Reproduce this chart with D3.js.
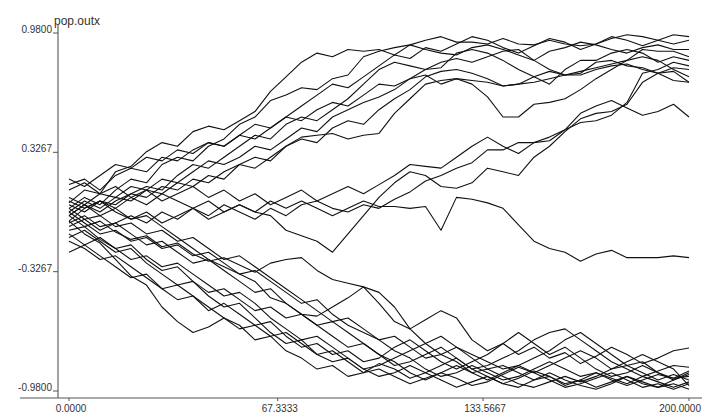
<!DOCTYPE html>
<html lang="en">
<head>
  <meta charset="UTF-8">
  <title>pop.outx</title>
  <script src="https://d3js.org/d3.v7.min.js"></script>
  <style>
    body {
      margin: 0;
      padding: 0;
      background: white;
      font-family: "Liberation Sans", Arial, sans-serif;
    }
    svg {
      display: block;
      background: #fff;
    }
    .tick-label {
      font-size: 10px;
      fill: #333;
    }
    .walk {
      fill: none;
      stroke: #111;
      stroke-width: 1.1;
      stroke-linejoin: round;
    }
  </style>
</head>
<body>
  <svg width="702" height="416"></svg>

  <script>
    const width = 702, height = 416;
    const svg = d3.select("svg");

    // sample times (every 5 steps)
    const steps = [0,5,10,15,20,25,30,35,40,45,50,55,60,65,70,75,80,85,90,95,100,
                   105,110,115,120,125,130,135,140,145,150,155,160,165,170,175,180,185,190,195,200];

    // ticks, as printed on the chart
    const yTicks = [0.98, 0.3267, -0.3267, -0.98];
    const yTickLabels = ["0.9800", "0.3267", "-0.3267", "-0.9800"];
    const xTicks = [0, 67.3333, 133.5667, 200];
    const xTickLabels = ["0.0000", "67.3333", "133.5667", "200.0000"];

    // walks that end near the top
    const walkA = [0.05,0.12,0.10,0.22,0.25,0.33,0.38,0.36,0.44,0.47,0.45,0.50,0.55,0.66,0.74,0.82,0.87,0.85,0.89,0.88,0.89,0.86,0.915,0.94,0.96,0.93,0.93,0.92,0.95,0.92,0.915,0.94,0.92,0.91,0.92,0.95,0.97,0.96,0.94,0.92,0.94];
    const walkB = [0.02,0.08,0.04,0.12,0.18,0.16,0.26,0.30,0.28,0.36,0.40,0.48,0.52,0.61,0.64,0.68,0.67,0.73,0.75,0.85,0.88,0.90,0.915,0.89,0.87,0.86,0.90,0.915,0.89,0.86,0.83,0.88,0.90,0.93,0.915,0.89,0.87,0.90,0.915,0.89,0.89];
    const walkC = [-0.05,0.02,0.06,0.04,0.10,0.14,0.12,0.20,0.26,0.24,0.30,0.36,0.42,0.40,0.48,0.52,0.50,0.56,0.62,0.70,0.78,0.82,0.80,0.78,0.79,0.87,0.89,0.87,0.83,0.78,0.74,0.70,0.78,0.83,0.83,0.87,0.89,0.87,0.82,0.85,0.83];
    const walkD = [0.15,0.18,0.12,0.20,0.24,0.22,0.30,0.28,0.34,0.38,0.36,0.42,0.40,0.46,0.52,0.50,0.56,0.60,0.58,0.64,0.70,0.69,0.73,0.75,0.70,0.73,0.70,0.63,0.52,0.52,0.59,0.60,0.62,0.67,0.73,0.78,0.83,0.89,0.88,0.88,0.85];
    const walkE = [0.08,0.04,0.10,0.08,0.14,0.12,0.18,0.16,0.22,0.28,0.26,0.30,0.36,0.34,0.40,0.46,0.44,0.52,0.56,0.60,0.63,0.67,0.73,0.78,0.82,0.84,0.82,0.85,0.88,0.89,0.83,0.78,0.75,0.76,0.82,0.83,0.80,0.79,0.76,0.79,0.78];
    const walkF = [0.0,0.06,0.02,0.08,0.06,0.12,0.10,0.16,0.14,0.20,0.18,0.26,0.30,0.28,0.36,0.40,0.38,0.46,0.50,0.48,0.56,0.62,0.67,0.74,0.77,0.78,0.76,0.73,0.69,0.70,0.71,0.73,0.75,0.77,0.79,0.81,0.83,0.85,0.83,0.78,0.74];
    const walkG = [-0.02,0.04,0.0,0.06,0.10,0.08,0.14,0.12,0.18,0.16,0.22,0.26,0.24,0.30,0.36,0.41,0.42,0.43,0.40,0.42,0.43,0.54,0.62,0.70,0.72,0.73,0.72,0.71,0.69,0.70,0.74,0.77,0.75,0.75,0.78,0.80,0.81,0.78,0.76,0.72,0.71];
    const walkN = [0.18,0.14,0.20,0.26,0.24,0.30,0.28,0.34,0.32,0.38,0.36,0.42,0.48,0.46,0.52,0.58,0.64,0.70,0.68,0.74,0.80,0.86,0.84,0.90,0.88,0.92,0.96,0.94,0.90,0.87,0.91,0.95,0.93,0.89,0.92,0.96,0.94,0.91,0.94,0.97,0.96];

    // walks that stay in the middle longer
    const walkH = [0.12,0.16,0.10,0.14,0.08,0.12,0.06,0.10,0.14,0.08,0.12,0.06,0.10,0.04,0.08,0.12,0.06,0.10,0.14,0.10,0.15,0.20,0.26,0.25,0.24,0.30,0.36,0.41,0.36,0.32,0.38,0.41,0.45,0.54,0.58,0.61,0.57,0.53,0.55,0.59,0.52];
    const walkI = [-0.08,-0.04,-0.10,-0.06,-0.02,-0.06,0.0,-0.04,0.02,-0.02,0.04,0.0,-0.04,0.02,-0.02,0.04,0.06,0.02,0.0,0.04,0.02,0.07,0.11,0.17,0.20,0.24,0.27,0.34,0.34,0.38,0.38,0.39,0.45,0.49,0.50,0.53,0.60,0.76,0.78,0.82,0.80];
    const walkJ = [0.04,0.0,0.06,0.02,0.08,0.04,0.10,0.06,0.02,0.06,0.0,0.04,0.0,-0.02,-0.10,-0.13,-0.16,-0.22,-0.12,-0.02,0.08,0.16,0.22,0.20,0.14,0.13,0.16,0.24,0.22,0.20,0.30,0.36,0.44,0.51,0.54,0.55,0.59,0.71,0.76,0.77,0.71];
    const walkK = [-0.02,0.04,-0.02,0.02,-0.04,0.0,-0.06,-0.02,0.02,-0.04,0.0,0.04,0.0,0.06,0.02,0.06,0.02,-0.02,0.02,0.06,0.03,0.03,0.02,0.03,-0.10,0.08,0.07,0.05,0.02,-0.07,-0.16,-0.20,-0.22,-0.27,-0.23,-0.21,-0.25,-0.25,-0.25,-0.24,-0.25];

    // walks that end near the bottom
    const walkL1 = [-0.02,-0.08,-0.05,-0.11,-0.15,-0.13,-0.19,-0.17,-0.23,-0.27,-0.25,-0.29,-0.33,-0.28,-0.26,-0.25,-0.32,-0.37,-0.39,-0.41,-0.44,-0.52,-0.64,-0.59,-0.54,-0.58,-0.70,-0.76,-0.72,-0.78,-0.74,-0.80,-0.77,-0.83,-0.79,-0.74,-0.78,-0.83,-0.80,-0.76,-0.745];
    const walkL2 = [-0.05,-0.12,-0.17,-0.26,-0.35,-0.40,-0.52,-0.60,-0.66,-0.63,-0.58,-0.62,-0.70,-0.68,-0.76,-0.80,-0.86,-0.84,-0.90,-0.88,-0.83,-0.86,-0.91,-0.88,-0.84,-0.80,-0.86,-0.90,-0.94,-0.91,-0.87,-0.90,-0.95,-0.92,-0.88,-0.91,-0.94,-0.90,-0.93,-0.96,-0.93];
    const walkL3 = [-0.10,-0.08,-0.15,-0.20,-0.18,-0.26,-0.32,-0.30,-0.38,-0.46,-0.52,-0.50,-0.58,-0.66,-0.72,-0.70,-0.78,-0.82,-0.80,-0.86,-0.90,-0.88,-0.84,-0.88,-0.92,-0.96,-0.93,-0.90,-0.94,-0.96,-0.92,-0.88,-0.92,-0.95,-0.97,-0.94,-0.90,-0.93,-0.96,-0.94,-0.97];
    const walkL4 = [-0.22,-0.18,-0.24,-0.30,-0.36,-0.34,-0.42,-0.48,-0.46,-0.54,-0.50,-0.56,-0.62,-0.60,-0.68,-0.74,-0.72,-0.78,-0.76,-0.82,-0.80,-0.74,-0.70,-0.76,-0.82,-0.86,-0.82,-0.78,-0.72,-0.66,-0.72,-0.78,-0.74,-0.80,-0.86,-0.90,-0.88,-0.84,-0.88,-0.92,-0.88];
    const walkL5 = [-0.06,-0.02,-0.08,-0.06,-0.12,-0.18,-0.16,-0.22,-0.28,-0.26,-0.32,-0.38,-0.44,-0.42,-0.50,-0.56,-0.62,-0.68,-0.74,-0.72,-0.78,-0.84,-0.82,-0.78,-0.74,-0.80,-0.86,-0.84,-0.80,-0.76,-0.70,-0.66,-0.64,-0.70,-0.76,-0.82,-0.86,-0.90,-0.87,-0.84,-0.85];
    const walkL6 = [0.02,-0.04,-0.02,-0.08,-0.06,-0.12,-0.10,-0.16,-0.14,-0.20,-0.26,-0.24,-0.30,-0.36,-0.42,-0.48,-0.54,-0.60,-0.58,-0.64,-0.70,-0.76,-0.80,-0.86,-0.90,-0.88,-0.84,-0.88,-0.92,-0.90,-0.86,-0.82,-0.86,-0.90,-0.88,-0.92,-0.95,-0.92,-0.89,-0.91,-0.90];
    const walkL7 = [-0.14,-0.10,-0.16,-0.22,-0.20,-0.28,-0.34,-0.40,-0.38,-0.44,-0.42,-0.48,-0.54,-0.52,-0.58,-0.56,-0.62,-0.60,-0.66,-0.72,-0.78,-0.82,-0.88,-0.92,-0.88,-0.91,-0.95,-0.93,-0.89,-0.85,-0.88,-0.84,-0.80,-0.76,-0.80,-0.86,-0.84,-0.88,-0.92,-0.89,-0.92];
    const walkL8 = [-0.12,-0.18,-0.14,-0.20,-0.26,-0.24,-0.30,-0.28,-0.34,-0.40,-0.46,-0.44,-0.50,-0.58,-0.64,-0.70,-0.68,-0.74,-0.80,-0.86,-0.84,-0.80,-0.76,-0.72,-0.68,-0.74,-0.78,-0.82,-0.86,-0.84,-0.80,-0.76,-0.70,-0.66,-0.72,-0.78,-0.84,-0.82,-0.88,-0.91,-0.87];
    const walkL9 = [0.0,-0.06,-0.12,-0.10,-0.16,-0.14,-0.20,-0.18,-0.24,-0.22,-0.28,-0.34,-0.32,-0.38,-0.44,-0.50,-0.48,-0.56,-0.62,-0.66,-0.70,-0.68,-0.74,-0.80,-0.78,-0.82,-0.88,-0.86,-0.90,-0.94,-0.96,-0.93,-0.90,-0.93,-0.90,-0.86,-0.82,-0.78,-0.82,-0.86,-0.95];
    const walkL10 = [0.06,0.02,0.06,0.0,-0.04,-0.02,-0.08,-0.14,-0.20,-0.26,-0.30,-0.34,-0.38,-0.47,-0.50,-0.56,-0.57,-0.52,-0.47,-0.41,-0.50,-0.60,-0.64,-0.72,-0.78,-0.74,-0.80,-0.86,-0.84,-0.88,-0.92,-0.90,-0.94,-0.92,-0.96,-0.93,-0.90,-0.94,-0.96,-0.92,-0.89];
    const walkL11 = [-0.16,-0.20,-0.26,-0.24,-0.30,-0.36,-0.42,-0.40,-0.46,-0.52,-0.58,-0.64,-0.62,-0.68,-0.66,-0.72,-0.78,-0.76,-0.82,-0.88,-0.86,-0.90,-0.94,-0.91,-0.88,-0.84,-0.88,-0.92,-0.88,-0.84,-0.88,-0.92,-0.96,-0.94,-0.91,-0.88,-0.92,-0.96,-0.94,-0.97,-0.94];

    const walks = [walkA, walkB, walkC, walkD, walkE, walkF, walkG, walkN,
                   walkH, walkI, walkJ, walkK,
                   walkL1, walkL2, walkL3, walkL4, walkL5, walkL6, walkL7, walkL8, walkL9, walkL10, walkL11];

    const x = d3.scaleLinear().domain([0, 200]).range([69, 689]);
    const y = d3.scaleLinear().domain([-0.98, 0.98]).range([391, 33]);

    // axes frame
    const axisX = 58, axisY = 398;
    svg.append("line")
      .attr("x1", axisX).attr("x2", axisX)
      .attr("y1", 25).attr("y2", axisY)
      .attr("stroke", "#444").attr("stroke-width", 1);
    svg.append("line")
      .attr("x1", 20).attr("x2", width)
      .attr("y1", axisY).attr("y2", axisY)
      .attr("stroke", "#555").attr("stroke-width", 1);

    // y ticks
    const yt = svg.append("g");
    yTicks.forEach((v, i) => {
      yt.append("line")
        .attr("x1", axisX - 5).attr("x2", axisX)
        .attr("y1", y(v)).attr("y2", y(v))
        .attr("stroke", "#555");
      yt.append("text")
        .attr("class", "tick-label")
        .attr("x", axisX - 6)
        .attr("y", y(v))
        .attr("text-anchor", "end")
        .text(yTickLabels[i]);
    });

    // x ticks; the last label is pulled in so it stays inside the frame
    const xt = svg.append("g");
    xTicks.forEach((v, i) => {
      const last = i === xTicks.length - 1;
      xt.append("line")
        .attr("x1", x(v)).attr("x2", x(v))
        .attr("y1", axisY).attr("y2", axisY + 3)
        .attr("stroke", "#555");
      xt.append("text")
        .attr("class", "tick-label")
        .attr("x", last ? width - 1 : x(v) + 2)
        .attr("y", axisY + 14)
        .attr("text-anchor", last ? "end" : "middle")
        .text(xTickLabels[i]);
    });

    // series name
    svg.append("text")
      .attr("x", 54)
      .attr("y", 25)
      .attr("font-size", 12)
      .attr("fill", "#333")
      .text("pop.outx");

    const line = d3.line()
      .x((d, i) => x(steps[i]))
      .y(d => y(d));

    svg.append("g")
      .selectAll("path")
      .data(walks)
      .join("path")
      .attr("class", "walk")
      .attr("d", line);
  </script>
</body>
</html>
